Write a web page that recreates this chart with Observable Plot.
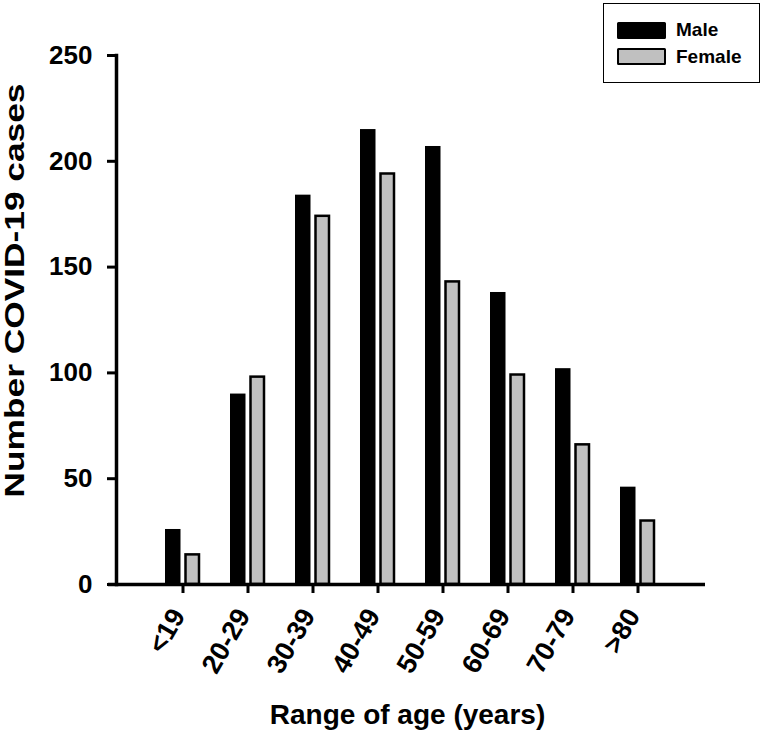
<!DOCTYPE html>
<html>
<head>
<meta charset="utf-8">
<script src="https://cdn.jsdelivr.net/npm/d3@7"></script>
<script src="https://cdn.jsdelivr.net/npm/@observablehq/plot@0.6"></script>
<style>
  html, body { margin: 0; padding: 0; background: #fff; }
  #wrap { position: relative; width: 765px; height: 743px; font-family: "Liberation Sans", Arial, sans-serif; }
  #legend { position: absolute; left: 603px; top: 3px; width: 157px; height: 80px; border: 1.5px solid #000; background: #fff; box-sizing: border-box; }
  .sw { position: absolute; left: 13px; width: 49px; height: 17px; box-sizing: border-box; border: 2.5px solid #000; border-radius: 1.5px; }
  .lt { position: absolute; left: 72px; font-weight: bold; font-size: 19px; line-height: 19px; }
</style>
</head>
<body>
<div id="wrap"></div>
<script>
const ageGroups = ["<19", "20-29", "30-39", "40-49", "50-59", "60-69", "70-79", ">80"];
const maleCases = [26, 90, 184, 215, 207, 138, 102, 46];
const femaleCases = [14, 98, 174, 194, 143, 99, 66, 30];
const yTicks = [0, 50, 100, 150, 200, 250];
const seriesNames = ["Male", "Female"];
const seriesColors = ["#000000", "#c0c0c0"];
const yTitle = "Number COVID-19 cases";
const xTitle = "Range of age (years)";

const rows = ageGroups.map((a, i) => ({age: a, male: maleCases[i], female: femaleCases[i]}));

const font = "'Liberation Sans', Arial, sans-serif";

const chart = Plot.plot({
  width: 765,
  height: 743,
  marginLeft: 116,
  marginRight: 60,
  marginTop: 55,
  marginBottom: 159,
  style: {fontFamily: font, background: "#fff", color: "#000"},
  x: {type: "band", domain: ageGroups, paddingInner: 0.46, paddingOuter: 0.73},
  y: {domain: [0, 250]},
  marks: [
    Plot.barY(rows, {x: "age", y: "male", fill: seriesColors[0], insetRight: 19.5, insetLeft: 0}),
    Plot.barY(rows, {x: "age", y: "female", fill: seriesColors[1], stroke: "#000", strokeWidth: 2.5, insetLeft: 20.5, insetRight: 1}),
    Plot.axisY({ticks: yTicks, tickSize: 9, tickPadding: 15, strokeWidth: 3, fontSize: 26, fontWeight: "bold", label: null}),
    Plot.axisX({tickSize: 9, strokeWidth: 3, tickFormat: () => "", label: null}),
    Plot.text(ageGroups, {x: d => d, frameAnchor: "bottom", rotate: -60, textAnchor: "end", dx: 3, dy: 31, fontSize: 27, fontWeight: "bold"}),
    Plot.ruleY([0], {strokeWidth: 3.5, insetLeft: -8, insetRight: 0}),
    Plot.frame({anchor: "left", strokeWidth: 3.5}),
    Plot.text([yTitle], {frameAnchor: "left", rotate: -90, textAnchor: "start", dx: -101, dy: 177.5, fontSize: 28, fontWeight: "bold"}),
    Plot.text([xTitle], {frameAnchor: "bottom", dx: -3.5, dy: 139, fontSize: 28, fontWeight: "bold"})
  ]
});

// stretch the y title to the reference's length
d3.select(chart).selectAll("text").filter(function() { return this.textContent === yTitle; })
  .attr("textLength", 414).attr("lengthAdjust", "spacingAndGlyphs");

const wrap = document.getElementById("wrap");
wrap.appendChild(chart);

const legend = document.createElement("div");
legend.id = "legend";
seriesNames.forEach((name, i) => {
  const sw = document.createElement("div");
  sw.className = "sw";
  sw.style.top = (i === 0 ? 18 : 44) + "px";
  sw.style.background = seriesColors[i];
  legend.appendChild(sw);
  const t = document.createElement("div");
  t.className = "lt";
  t.style.top = (i === 0 ? 16 : 43) + "px";
  t.textContent = name;
  legend.appendChild(t);
});
wrap.appendChild(legend);
</script>
</body>
</html>
